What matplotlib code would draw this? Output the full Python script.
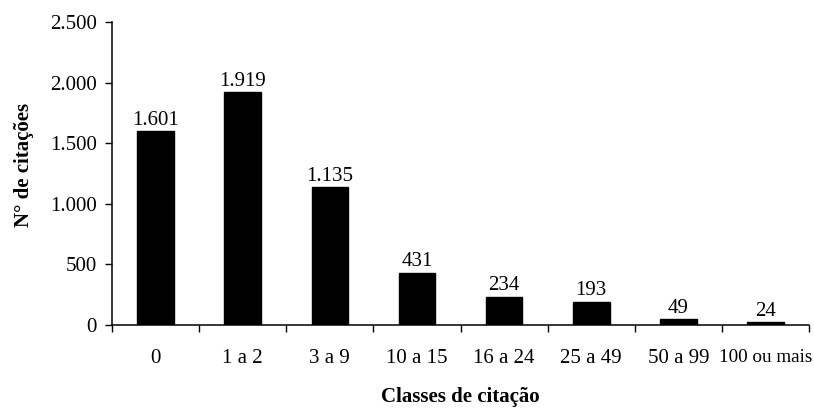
import matplotlib
matplotlib.use("Agg")
import matplotlib.pyplot as plt
from matplotlib.ticker import FuncFormatter, FixedLocator
import numpy as np

categories = ["0", "1 a 2", "3 a 9", "10 a 15", "16 a 24", "25 a 49", "50 a 99", "100 ou mais"]
citations = [1601, 1919, 1135, 431, 234, 193, 49, 24]
y_ticks = [0, 500, 1000, 1500, 2000, 2500]

plt.rcParams["font.family"] = ["Liberation Serif", "DejaVu Serif"]
FS = 15


def pt_format(v, pos=None):
    return f"{int(round(v)):,}".replace(",", ".")


fig = plt.figure(figsize=(8.14, 4.08), dpi=100)
ax = fig.add_axes([0.1376, 0.2034, 0.8563, 0.7426])

x = np.arange(len(categories))
ax.bar(x, citations, width=0.42, color="black", edgecolor="black")

for xi, v in zip(x, citations):
    ax.text(xi, v + 12, pt_format(v), ha="center", va="bottom", fontsize=FS)

ax.set_xlim(-0.5, len(categories) - 0.5)
ax.set_ylim(0, 2500)
ax.set_yticks(y_ticks)
ax.yaxis.set_major_formatter(FuncFormatter(pt_format))

ax.set_xticks(x)
ax.set_xticklabels(categories)
ax.xaxis.set_minor_locator(FixedLocator(np.arange(len(categories) + 1) - 0.5))
ax.tick_params(axis="x", which="major", length=0, pad=17, labelsize=FS)
ax.tick_params(axis="x", which="minor", length=5, direction="out", width=1)
ax.tick_params(axis="y", length=5, direction="out", width=1, labelsize=FS, pad=6)
# the widest class label is set a bit tighter so it stays inside the figure
ax.get_xticklabels()[-1].set_fontsize(13.8)

for side in ("top", "right"):
    ax.spines[side].set_visible(False)
for side in ("left", "bottom"):
    ax.spines[side].set_linewidth(1.1)

ax.set_xlabel("Classes de citação", fontsize=FS, fontweight="bold")
ax.set_ylabel("N° de citações", fontsize=FS, fontweight="bold")
ax.xaxis.set_label_coords(0.5, -0.238)
ax.yaxis.set_label_coords(-0.126, 0.528)
ax.xaxis.label.set_va("center")
ax.yaxis.label.set_va("center")

fig.savefig("out.png", dpi=100)
